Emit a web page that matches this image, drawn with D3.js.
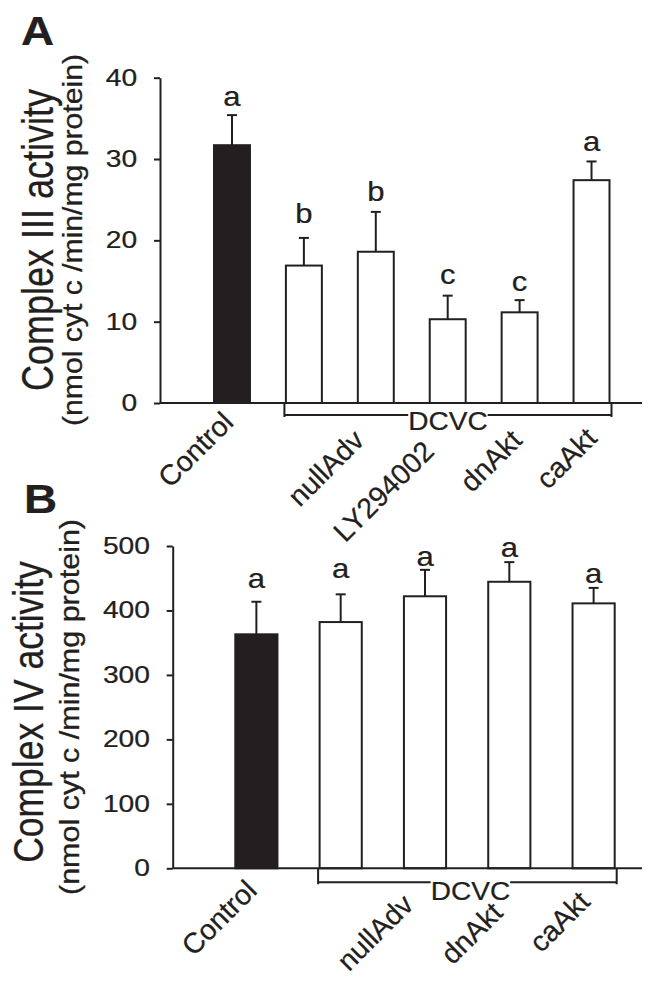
<!DOCTYPE html>
<html><head><meta charset="utf-8">
<script src="https://cdn.jsdelivr.net/npm/d3@7"></script>
<style>
body{margin:0;background:#fff}
svg{display:block}
text{font-family:"Liberation Sans",Arial,Helvetica,sans-serif;fill:#231f20;stroke:#231f20;stroke-width:0.25px}
</style>
</head><body>
<svg id="chart" width="649" height="982"></svg>
<script>
// ---------------- data ----------------
const groupsA = ["Control","DCVC","nullAdv","LY294002","dnAkt","caAkt"];
const tickLabelsA = ["Control","","nullAdv","LY294002","dnAkt","caAkt"];
const valuesA = [31.7,16.9,18.6,10.3,11.15,27.4];
const errorsA = [3.7,3.4,4.9,2.9,1.5,2.3];
const lettersA = ["a","b","b","c","c","a"];
const yTicksA = [0,10,20,30,40];

const groupsB = ["Control","DCVC","nullAdv","dnAkt","caAkt"];
const tickLabelsB = ["Control","","nullAdv","dnAkt","caAkt"];
const valuesB = [363,382,422,444.5,411];
const errorsB = [50.5,43,41,30.5,24];
const lettersB = ["a","a","a","a","a"];
const yTicksB = [0,100,200,300,400,500];

const bracketLabel = "DCVC";
const titleA = "Complex III activity";
const titleB = "Complex IV activity";
const unitLabel = "(nmol cyt c /min/mg protein)";

// ---------------- layout ----------------
const INK = "#231f20";
const panels = [
  {letter:"A", groups:groupsA, labels:tickLabelsA, values:valuesA, errors:errorsA, sig:lettersA, ticks:yTicksA,
   yMax:40, yTop:77.7, yBase:403, axisX:160, xRange:[214,609.5], rightEnd:642,
   letterGap:[9.3,14.7,10.7,12,9.3,10],
   labelShift:[[3,21],null,[-10,39],[-12,50],[4,39],[7,37]],
   bracketDrop:12, dcvcBaseline:430, dcvcShift:0,
   panelPos:[21,45], title:titleA, titlePos:[53,240], titleSize:36, subPos:[82,240], subLen:372},
  {letter:"B", groups:groupsB, labels:tickLabelsB, values:valuesB, errors:errorsB, sig:lettersB, ticks:yTicksB,
   yMax:500, yTop:546, yBase:868.3, axisX:172.7, xRange:[235.3,614.7], rightEnd:642,
   letterGap:[13.7,16,4.3,5,5],
   labelShift:[[2,24],null,[-10,38],[-5,46],[-2,35]],
   bracketDrop:14, dcvcBaseline:900, dcvcShift:3,
   panelPos:[24,513], title:titleB, titlePos:[43,712], titleSize:35.5, subPos:[79,707], subLen:376}
];

const svg = d3.select("#chart");

panels.forEach(p => {
  const g = svg.append("g");
  const y = d3.scaleLinear().domain([0,p.yMax]).range([p.yBase,p.yTop]);
  const x = d3.scaleBand().domain(p.groups).range(p.xRange).paddingInner(0.5).paddingOuter(0);
  const bw = x.bandwidth();
  const rows = p.groups.map((k,i)=>({k, label:p.labels[i], v:p.values[i], e:p.errors[i], s:p.sig[i], gap:p.letterGap[i], shift:p.labelShift[i], i}));

  // bars
  g.selectAll("rect.bar").data(rows).join("rect")
    .attr("x", d=>x(d.k)).attr("y", d=>y(d.v))
    .attr("width", bw).attr("height", d=>y(0)-y(d.v))
    .attr("fill", d=>d.i===0?INK:"#fff")
    .attr("stroke", INK).attr("stroke-width",2);

  // error bars
  const eb = g.selectAll("g.err").data(rows).join("g");
  eb.append("line")
    .attr("x1", d=>x(d.k)+bw/2).attr("x2", d=>x(d.k)+bw/2)
    .attr("y1", d=>y(d.v)).attr("y2", d=>y(d.v+d.e))
    .attr("stroke", INK).attr("stroke-width",2);
  eb.append("line")
    .attr("x1", d=>x(d.k)+bw/2-5).attr("x2", d=>x(d.k)+bw/2+5)
    .attr("y1", d=>y(d.v+d.e)).attr("y2", d=>y(d.v+d.e))
    .attr("stroke", INK).attr("stroke-width",2);

  // significance letters
  g.selectAll("text.sig").data(rows).join("text")
    .attr("text-anchor","middle").attr("font-size",27)
    .attr("transform", d=>`translate(${x(d.k)+bw/2},${y(d.v+d.e)-d.gap}) scale(1.15,1)`)
    .text(d=>d.s);

  // y axis
  const ax = g.append("g").attr("transform",`translate(${p.axisX},0)`)
    .call(d3.axisLeft(y).tickValues(p.ticks).tickSize(6).tickSizeOuter(0).tickPadding(13));
  ax.attr("font-family",null).attr("font-size",null);
  ax.selectAll("path,line").attr("stroke",INK).attr("stroke-width",2);
  ax.selectAll("text").attr("font-size",23.5).attr("fill",INK).attr("transform","scale(1.2,1)");

  // baseline
  g.append("line").attr("x1",p.axisX).attr("x2",p.rightEnd)
    .attr("y1",y(0)).attr("y2",y(0)).attr("stroke",INK).attr("stroke-width",2);

  // category labels
  g.selectAll("text.cat").data(rows.filter(d=>d.label)).join("text")
    .attr("text-anchor","end").attr("font-size",28.5)
    .attr("transform", d=>`translate(${x(d.k)+bw/2+d.shift[0]},${y(0)+d.shift[1]}) rotate(-45)`)
    .text(d=>d.label);

  // DCVC bracket
  const x0 = x(p.groups[1]) - 1.5, x1 = x(p.groups[p.groups.length-1]) + bw + 2;
  const hy = y(0) + p.bracketDrop;
  const cx = (x0+x1)/2 + p.dcvcShift;
  const t = g.append("text").attr("text-anchor","middle").attr("font-size",25.5)
    .attr("transform",`translate(${cx},${p.dcvcBaseline}) scale(1.1,1)`).text(bracketLabel);
  const tw = t.node().getComputedTextLength()*1.1;
  const br = g.append("g").attr("stroke",INK).attr("stroke-width",2).attr("fill","none");
  br.append("path").attr("d",`M${x0},${y(0)}V${hy+2}M${x0},${hy}H${cx-tw/2}`);
  br.append("path").attr("d",`M${cx+tw/2},${hy}H${x1}M${x1},${y(0)}V${hy+2}`);

  // panel letter
  g.append("text").attr("font-size",41).attr("font-weight","bold")
    .attr("transform",`translate(${p.panelPos[0]},${p.panelPos[1]}) scale(1.12,1)`).text(p.letter);

  // axis titles
  g.append("text").attr("text-anchor","middle").attr("font-size",p.titleSize)
    .attr("transform",`translate(${p.titlePos[0]},${p.titlePos[1]}) scale(1.22,1) rotate(-90)`)
    .text(p.title);
  g.append("text").attr("text-anchor","middle").attr("font-size",23.5)
    .attr("textLength",p.subLen).attr("lengthAdjust","spacingAndGlyphs")
    .attr("transform",`translate(${p.subPos[0]},${p.subPos[1]}) scale(1.2,1) rotate(-90)`)
    .text(unitLabel);
});
</script>
</body></html>
